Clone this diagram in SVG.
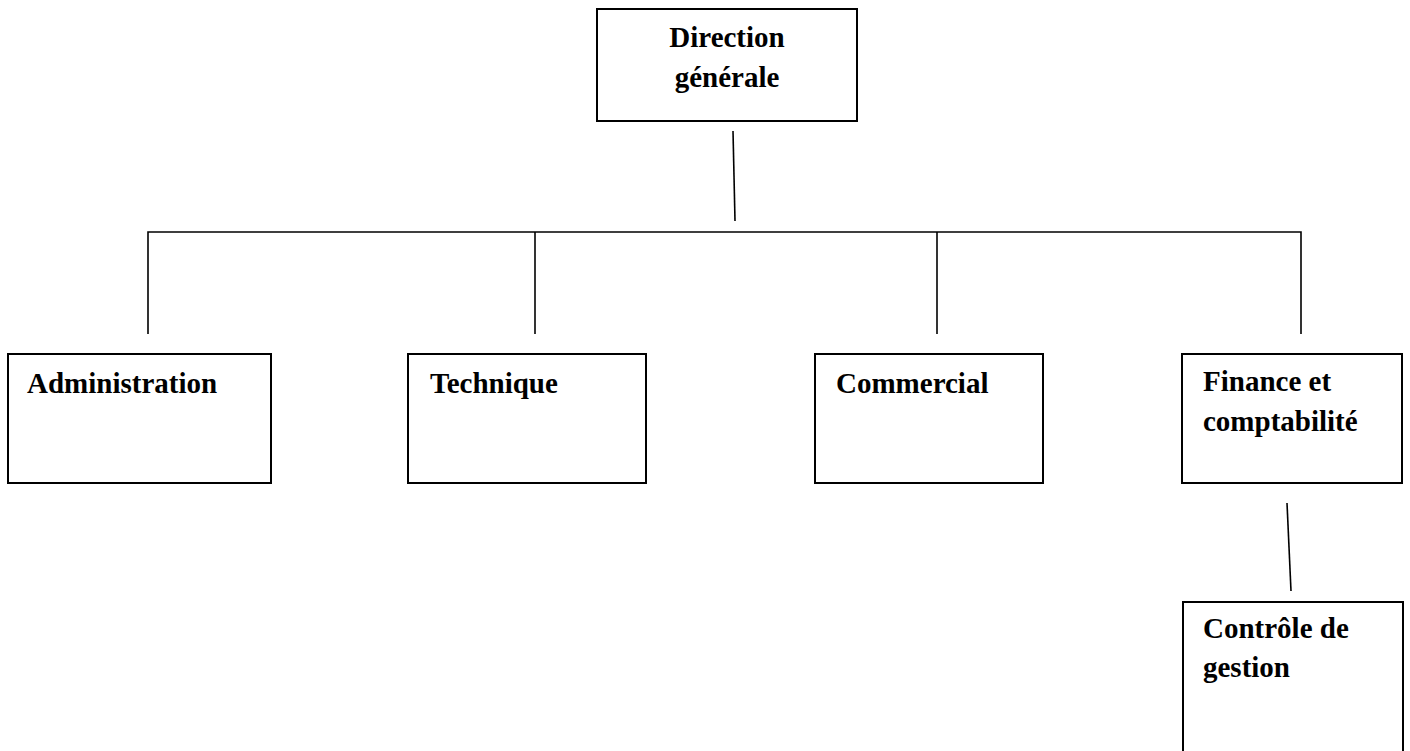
<svg xmlns="http://www.w3.org/2000/svg" width="1410" height="751" viewBox="0 0 1410 751">
<style>
.box{fill:#fff;stroke:#000;stroke-width:2}
.t{font-family:"Liberation Serif","Times New Roman",serif;font-weight:bold;font-size:29px;fill:#000}
.c{stroke:#000;stroke-width:1.6;fill:none}
</style>
<rect width="1410" height="751" fill="#fff"/>
<g id="connectors">
<line class="c" x1="733" y1="131" x2="735" y2="221"/>
<polyline class="c" points="148,334 148,232 1301,232 1301,334"/>
<line class="c" x1="535" y1="232" x2="535" y2="334"/>
<line class="c" x1="937" y1="232" x2="937" y2="334"/>
<line class="c" x1="1287" y1="503" x2="1291" y2="591"/>
</g>
<g id="direction-generale">
<rect class="box" x="597" y="9" width="260" height="112"/>
<text class="t" x="727" y="47" text-anchor="middle">Direction</text>
<text class="t" x="727" y="87" text-anchor="middle">générale</text>
</g>
<g id="administration">
<rect class="box" x="8" y="354" width="263" height="129"/>
<text class="t" x="27" y="393">Administration</text>
</g>
<g id="technique">
<rect class="box" x="408" y="354" width="238" height="129"/>
<text class="t" x="430" y="393">Technique</text>
</g>
<g id="commercial">
<rect class="box" x="815" y="354" width="228" height="129"/>
<text class="t" x="836" y="393">Commercial</text>
</g>
<g id="finance">
<rect class="box" x="1182" y="354" width="220" height="129"/>
<text class="t" x="1203" y="391">Finance et</text>
<text class="t" x="1203" y="431">comptabilité</text>
</g>
<g id="controle-gestion">
<rect class="box" x="1183" y="602" width="220" height="170"/>
<text class="t" x="1203" y="638">Contrôle de</text>
<text class="t" x="1203" y="677">gestion</text>
</g>
</svg>
